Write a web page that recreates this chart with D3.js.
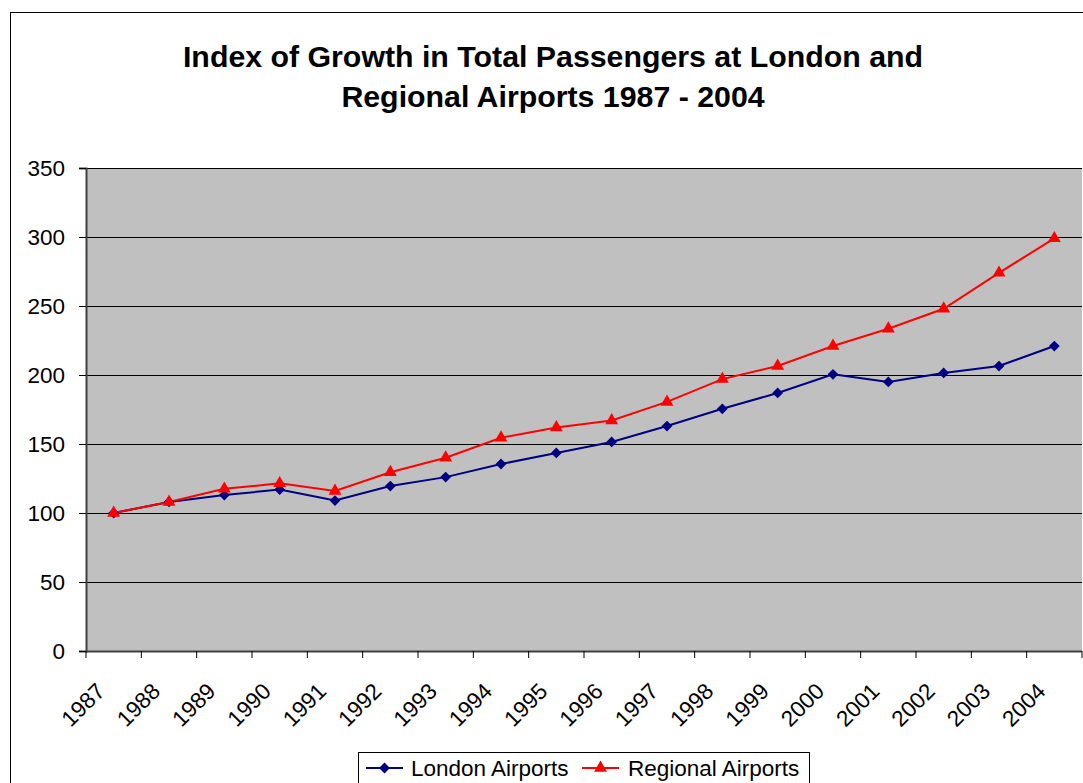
<!DOCTYPE html>
<html><head><meta charset="utf-8">
<script src="https://cdn.jsdelivr.net/npm/d3@7"></script>
<style>body{margin:0;background:#fff;}svg{display:block;font-family:Arial,"Liberation Sans",sans-serif;}</style>
</head><body>
<svg id="c" width="1083" height="783"></svg>
<script>
const years = ["1987","1988","1989","1990","1991","1992","1993","1994","1995","1996","1997","1998","1999","2000","2001","2002","2003","2004"];
const londonAirports = [100,108,113,117,109,119.5,126,135.5,143.5,151.5,163,175.5,187,200.5,195,201.5,206.5,221];
const regionalAirports = [100,108,117.5,121.5,116,129.5,140,154.5,162,167,180.5,197,206.5,221,233.5,248,274,299];
const yTicks = [0,50,100,150,200,250,300,350];
const titleLines = ["Index of Growth in Total Passengers at London and","Regional Airports 1987 - 2004"];
const seriesNames = ["London Airports","Regional Airports"];
const seriesColors = ["#000080","#FF0000"];

const svg = d3.select("#c");
svg.append("rect").attr("x",10.5).attr("y",12.5).attr("width",1090).attr("height",800)
  .attr("fill","#fff").attr("stroke","#000").attr("stroke-width",1);

const L=86, R=1082, T=168, B=651;
const x = d3.scaleBand().domain(years).range([L,R]);
const y = d3.scaleLinear().domain([0,350]).range([B,T]);

svg.append("rect").attr("x",L).attr("y",T).attr("width",R-L).attr("height",B-T).attr("fill","#C0C0C0");

svg.append("g").selectAll("line").data(yTicks.filter(d=>d>0)).join("line")
  .attr("x1",L).attr("x2",R).attr("y1",d=>y(d)+0.5).attr("y2",d=>y(d)+0.5)
  .attr("stroke","#000").attr("stroke-width",1);

const ya = svg.append("g").attr("transform",`translate(${L},0)`)
  .call(d3.axisLeft(y).tickValues(yTicks).tickSize(7).tickPadding(14));
ya.select(".domain").attr("stroke","#404040").attr("stroke-width",2);
ya.selectAll(".tick line").attr("stroke","#000");
ya.selectAll("text").attr("font-size",22.5).attr("fill","#000").attr("font-family","Arial, 'Liberation Sans', sans-serif");

const xa = svg.append("g").attr("transform",`translate(0,${B})`);
xa.append("line").attr("x1",L).attr("x2",R).attr("y1",0.5).attr("y2",0.5).attr("stroke","#404040").attr("stroke-width",2);
const bounds = years.map(d=>x(d)).concat([x(years[years.length-1])+x.bandwidth()]);
xa.selectAll("line.tk").data(bounds).join("line").attr("class","tk")
  .attr("x1",d=>d).attr("x2",d=>d).attr("y1",0).attr("y2",7).attr("stroke","#000");
xa.selectAll("text").data(years).join("text")
  .attr("transform",d=>`translate(${x(d)+x.bandwidth()/2-13},${36}) rotate(-45)`)
  .attr("text-anchor","end").attr("dy","0.35em")
  .attr("font-size",22.5).attr("fill","#000").text(d=>d);

const cx = d=>x(d)+x.bandwidth()/2;
const line = d3.line().x((d,i)=>cx(years[i])).y(d=>y(d));
const diamond = d3.symbol().type(d3.symbolSquare).size(58);
const tri = d3.symbol().type(d3.symbolTriangle).size(72);

svg.append("path").datum(londonAirports).attr("d",line).attr("fill","none").attr("stroke",seriesColors[0]).attr("stroke-width",2);
svg.append("path").datum(regionalAirports).attr("d",line).attr("fill","none").attr("stroke",seriesColors[1]).attr("stroke-width",2);
svg.append("g").selectAll("path").data(londonAirports).join("path")
  .attr("d",diamond).attr("transform",(d,i)=>`translate(${cx(years[i])},${y(d)}) rotate(45)`).attr("fill",seriesColors[0]);
svg.append("g").selectAll("path").data(regionalAirports).join("path")
  .attr("d",tri).attr("transform",(d,i)=>`translate(${cx(years[i])},${y(d)})`).attr("fill",seriesColors[1]);

svg.append("g").selectAll("text").data(titleLines).join("text")
  .attr("x",553).attr("y",(d,i)=>67+i*40).attr("text-anchor","middle")
  .attr("font-size",30.3).attr("font-weight","bold").attr("fill","#000").text(d=>d);

const lg = svg.append("g");
lg.append("rect").attr("x",358.5).attr("y",752.5).attr("width",451).attr("height",40).attr("fill","#fff").attr("stroke","#000");
const items = [{x:366,tx:411,sym:diamond,rot:45},{x:582,tx:628,sym:tri,rot:0}];
items.forEach((it,i)=>{
  lg.append("line").attr("x1",it.x).attr("x2",it.x+37).attr("y1",768).attr("y2",768).attr("stroke",seriesColors[i]).attr("stroke-width",2);
  lg.append("path").attr("d",it.sym).attr("transform",`translate(${it.x+18.5},768) rotate(${it.rot})`).attr("fill",seriesColors[i]);
  lg.append("text").attr("x",it.tx).attr("y",768).attr("dy","0.35em").attr("font-size",22.5).attr("fill","#000").text(seriesNames[i]);
});
</script>
</body></html>
